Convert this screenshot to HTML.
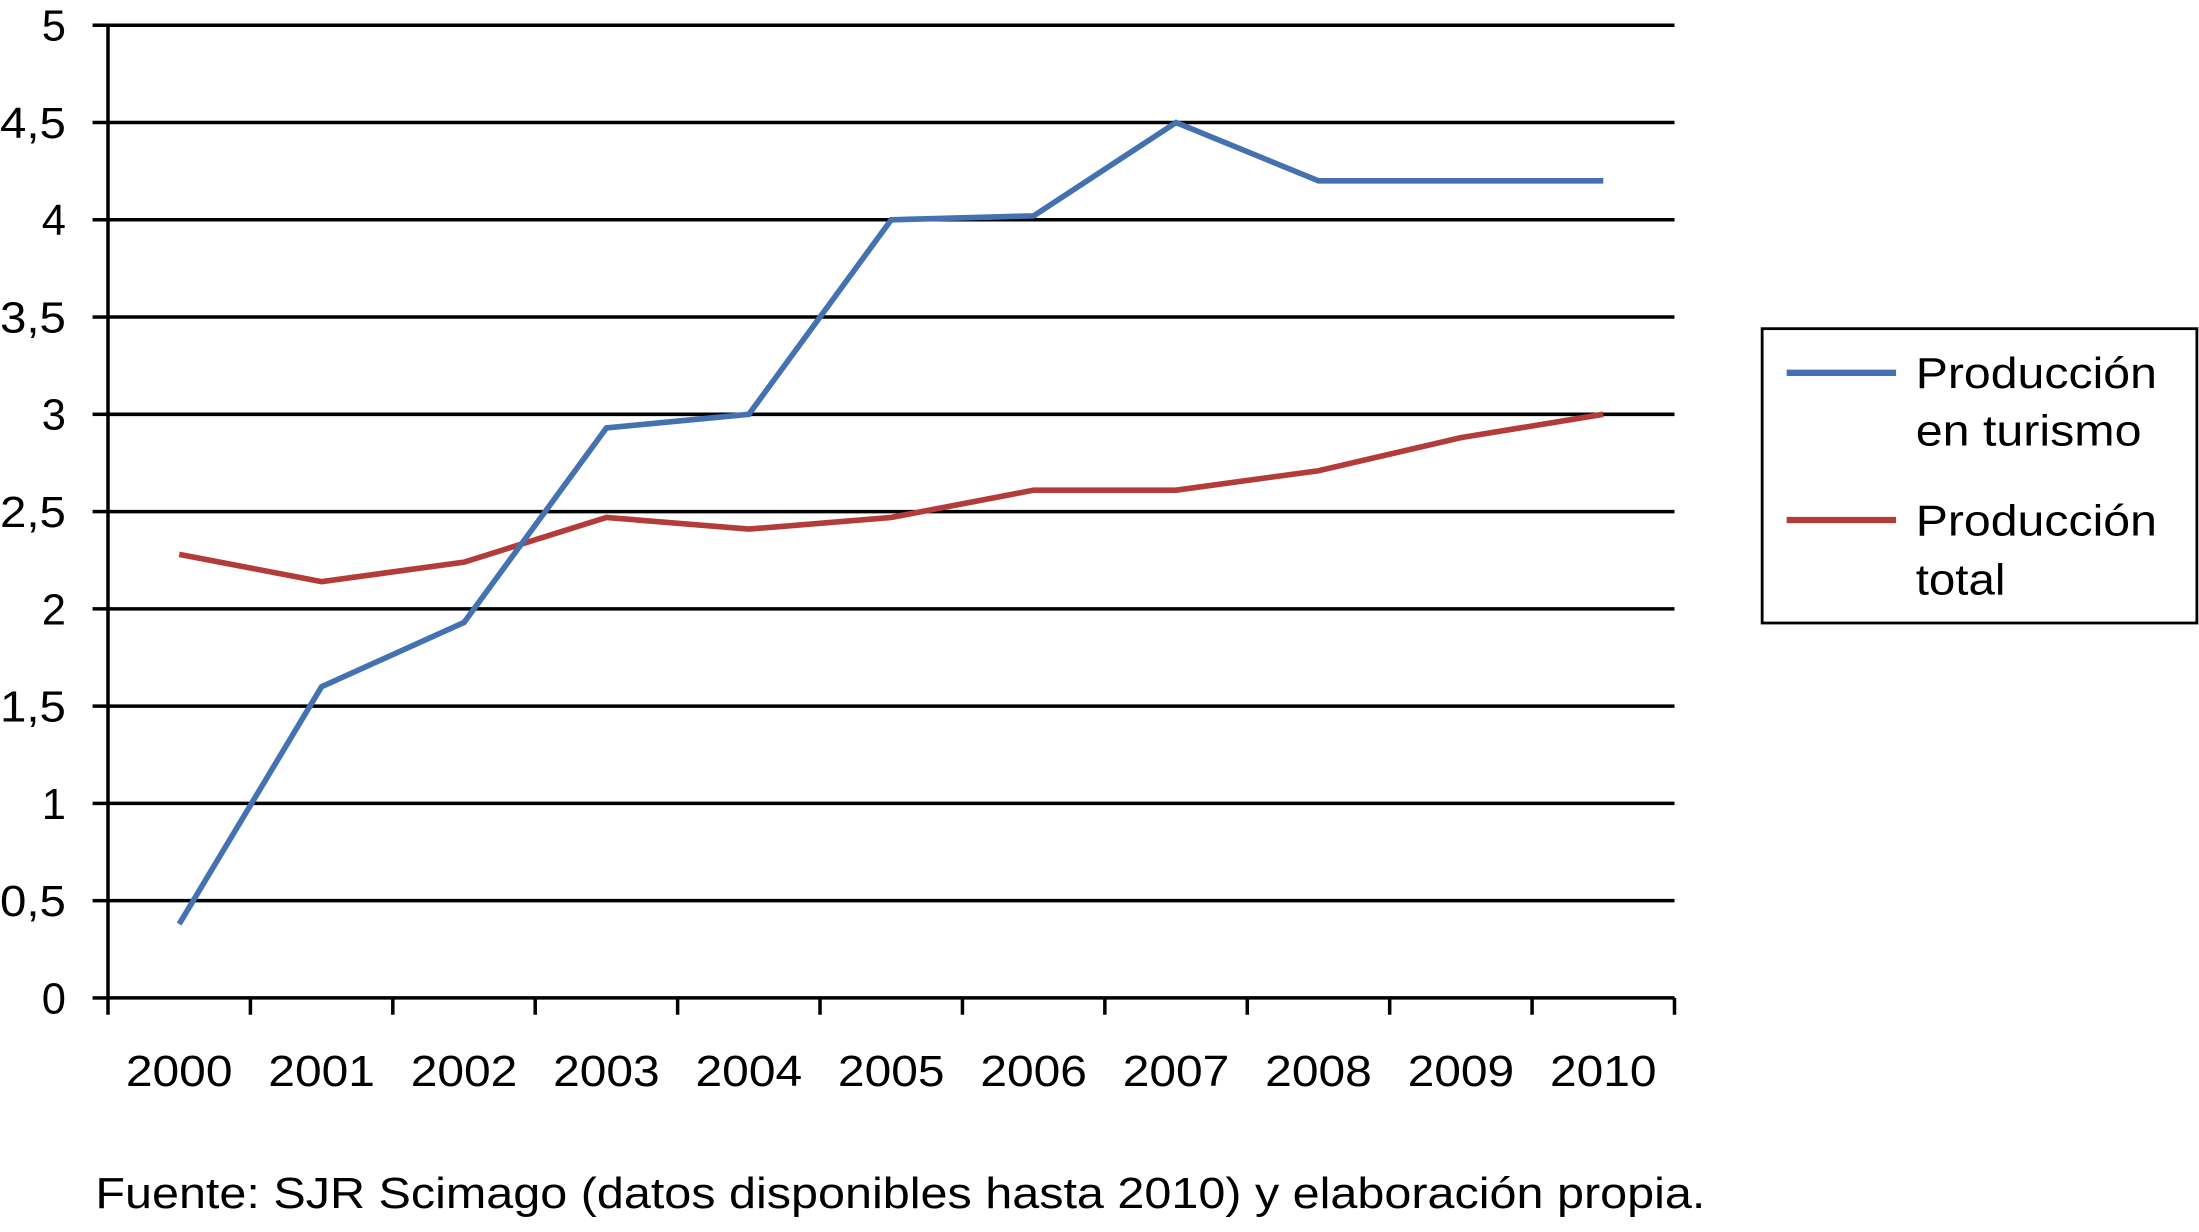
<!DOCTYPE html>
<html><head><meta charset="utf-8"><style>html,body{margin:0;padding:0;background:#fff;}svg{display:block;}</style></head>
<body>
<svg id="chart" width="2199" height="1232" viewBox="0 0 1568 879" preserveAspectRatio="none" xmlns="http://www.w3.org/2000/svg" font-family="'Liberation Sans', sans-serif">
<g id="grid"></g>
<g id="axes"></g>
<g id="series"></g>
<g>
<rect x="1256.5" y="234.5" width="310" height="210" fill="#fff" stroke="#000" stroke-width="2"/>
<line x1="1274" y1="266" x2="1352" y2="266" stroke="#4471b0" stroke-width="4.5"/>
<text x="1366" y="277" font-size="31" textLength="172" lengthAdjust="spacingAndGlyphs">Producción</text>
<text x="1366" y="318" font-size="31" textLength="161" lengthAdjust="spacingAndGlyphs">en turismo</text>
<line x1="1274" y1="371" x2="1352" y2="371" stroke="#b33c3a" stroke-width="4.5"/>
<text x="1366" y="382" font-size="31" textLength="172" lengthAdjust="spacingAndGlyphs">Producción</text>
<text x="1366" y="424" font-size="31" textLength="64" lengthAdjust="spacingAndGlyphs">total</text>
</g>
<text x="68" y="862" font-size="31" textLength="1148" lengthAdjust="spacingAndGlyphs">Fuente: SJR Scimago (datos disponibles hasta 2010) y elaboración propia.</text>
</svg>
<script>
const categories = ["2000","2001","2002","2003","2004","2005","2006","2007","2008","2009","2010"];
const turismo = [0.38,1.6,1.93,2.93,3.0,4.0,4.02,4.5,4.2,4.2,4.2];
const total = [2.28,2.14,2.24,2.47,2.41,2.47,2.61,2.61,2.71,2.88,3.0];
const yTicks = [0,0.5,1,1.5,2,2.5,3,3.5,4,4.5,5];
const yTickLabels = ["0","0,5","1","1,5","2","2,5","3","3,5","4","4,5","5"];

const NS="http://www.w3.org/2000/svg";
const L=77,R=1194,T=18,B=712,yMax=5;
const bw=(R-L)/categories.length;
function x(i){return L+bw*(i+0.5);}
function y(v){return B-(B-T)*v/yMax;}
function mk(tag,attrs,parent){const e=document.createElementNS(NS,tag);for(const k in attrs)e.setAttribute(k,attrs[k]);parent.appendChild(e);return e;}
const grid=document.getElementById('grid'),axes=document.getElementById('axes'),series=document.getElementById('series');
yTicks.forEach((v,i)=>{
  if(v>0){const g=mk('line',{x1:L,x2:R,y1:y(v),y2:y(v),stroke:'#000','stroke-width':2.5},grid);
  
  }
  const t=mk('line',{x1:L-11,x2:L,y1:y(v),y2:y(v),stroke:'#000','stroke-width':2.5},axes);
  
  
  const lab=yTickLabels[i];
  const attrs={x:47,y:y(v)+11,'font-size':31,'text-anchor':'end'};
  if(lab.length>1){attrs.textLength=47;attrs.lengthAdjust='spacingAndGlyphs';}
  const lb=mk('text',attrs,axes);
  lb.textContent=lab;
  
  
});
const xa=mk('line',{x1:L,x2:R,y1:B,y2:B,stroke:'#000','stroke-width':2.5},axes);


const ya=mk('line',{x1:L,x2:L,y1:T,y2:B,stroke:'#000','stroke-width':2.5},axes);


for(let i=0;i<=categories.length;i++){
  const t=mk('line',{x1:L+bw*i,x2:L+bw*i,y1:B,y2:B+12,stroke:'#000','stroke-width':2.5},axes);
  
  
}
categories.forEach((c,i)=>{
  const lb=mk('text',{x:x(i),y:775,'font-size':31,'text-anchor':'middle',textLength:76,lengthAdjust:'spacingAndGlyphs'},axes);
  lb.textContent=c;
  
  
});
function line(vals,color,name){
  const p=mk('polyline',{points:vals.map((v,i)=>x(i)+','+y(v)).join(' '),fill:'none',stroke:color,'stroke-width':4,'stroke-linejoin':'miter'},series);
  
  
}
line(total,'#b33c3a','line-produccion-total');
line(turismo,'#4471b0','line-produccion-turismo');
</script>
</body></html>
